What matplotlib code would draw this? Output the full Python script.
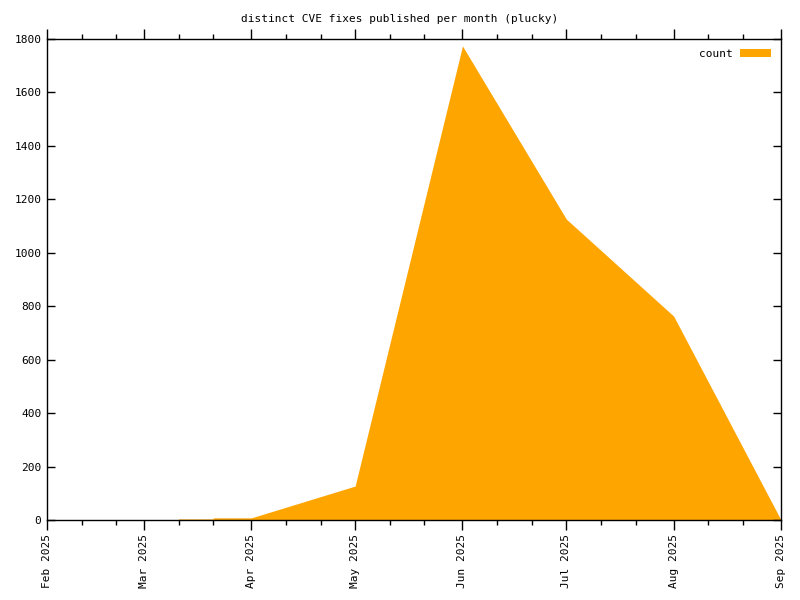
import datetime as dt
import matplotlib
matplotlib.use('Agg')
import matplotlib.pyplot as plt
import matplotlib.dates as mdates
from matplotlib.patches import Patch

# monthly counts (small steps in March as drawn by the original)
dates = [dt.date(2025, 2, 1), dt.date(2025, 3, 11), dt.date(2025, 3, 11),
         dt.date(2025, 3, 21), dt.date(2025, 3, 21), dt.date(2025, 4, 1),
         dt.date(2025, 5, 1), dt.date(2025, 6, 1), dt.date(2025, 7, 1),
         dt.date(2025, 8, 1), dt.date(2025, 9, 1)]
counts = [0, 0, 4, 4, 8, 8, 127, 1774, 1126, 763, 0]

yticks = [0, 200, 400, 600, 800, 1000, 1200, 1400, 1600, 1800]
title = 'distinct CVE fixes published per month (plucky)'
orange = '#ffa500'

plt.rcParams['font.family'] = ['DejaVu Sans Mono']
plt.rcParams['font.size'] = 8

fig = plt.figure(figsize=(8, 6), dpi=100)
ax = fig.add_axes([47/800, 80/600, 734/800, 481/600])

ax.fill_between(dates, counts, 0, color=orange, linewidth=0)

ax.set_xlim(dt.date(2025, 2, 1), dt.date(2025, 9, 1))
ax.set_ylim(0, 1800)
ax.set_yticks(yticks)

ax.xaxis.set_major_locator(mdates.MonthLocator())
ax.xaxis.set_major_formatter(mdates.DateFormatter('%b %Y'))
ax.xaxis.set_minor_locator(mdates.DayLocator(bymonthday=[11, 21]))
plt.setp(ax.get_xticklabels(), rotation=90, ha='center', va='top')

ax.tick_params(axis='x', which='both', direction='out', top=True, bottom=True, width=1, pad=3)
ax.tick_params(axis='x', which='major', length=7)
ax.tick_params(axis='x', which='minor', length=3.5)
ax.tick_params(axis='y', direction='in', left=True, right=True, length=6, width=1, pad=4)

for sp in ax.spines.values():
    sp.set_linewidth(1)
    sp.set_color('black')

ax.legend(handles=[Patch(facecolor=orange, edgecolor='none', label='count')],
          loc='upper right', frameon=False, markerfirst=False,
          handlelength=2.8, handleheight=0.65, handletextpad=0.6,
          borderaxespad=0.5, fontsize=8)

fig.text(0.5, 1 - 19/600, title, ha='center', va='center', fontsize=8)

fig.savefig('out.png', dpi=100)
